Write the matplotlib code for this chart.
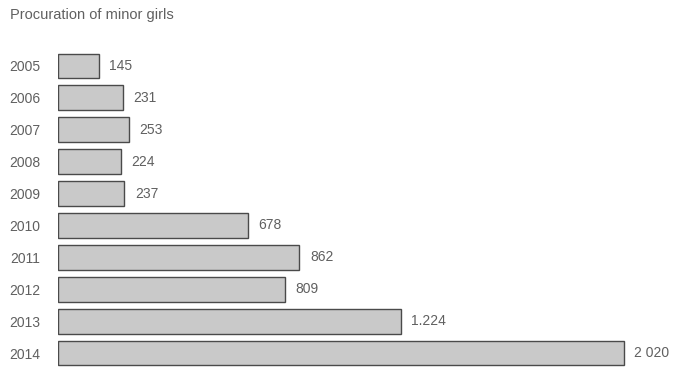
import matplotlib
matplotlib.use("Agg")
import matplotlib.pyplot as plt

years = ["2005", "2006", "2007", "2008", "2009", "2010", "2011", "2012", "2013", "2014"]
values = [145, 231, 253, 224, 237, 678, 862, 809, 1224, 2020]
value_labels = ["145", "231", "253", "224", "237", "678", "862", "809", "1.224", "2 020"]
title = "Procuration of minor girls"

W, H = 677, 371
fig = plt.figure(figsize=(W / 100, H / 100), dpi=100)
fig.patch.set_facecolor("white")

left_px, right_px = 58, 677
top_px, bot_px = 50, 369
ax = fig.add_axes([left_px / W, 1 - bot_px / H, (right_px - left_px) / W, (bot_px - top_px) / H])
ax.set_facecolor("white")

pos = list(range(len(years)))
ax.barh(pos, values, height=0.78, color="#c9c9c9", edgecolor="#4a4a4a", linewidth=1.0)
ax.set_ylim(len(years) - 0.5, -0.5)
ax.set_xlim(0, (right_px - left_px) / 0.28)

for p, v, lab in zip(pos, values, value_labels):
    ax.text(v + 38, p, lab, va="center", ha="left", fontsize=10, color="#606060",
            family="Liberation Sans")

ax.set_yticks(pos)
ax.set_yticklabels(years, fontsize=10, color="#606060", family="Liberation Sans")
ax.tick_params(axis="y", length=0, pad=13)
ax.set_xticks([])
for s in ax.spines.values():
    s.set_visible(False)

fig.text(10 / W, 1 - 15 / H, title, fontsize=10.5, color="#606060", va="center", ha="left",
         family="Liberation Sans")

fig.savefig("out.png", dpi=100)
